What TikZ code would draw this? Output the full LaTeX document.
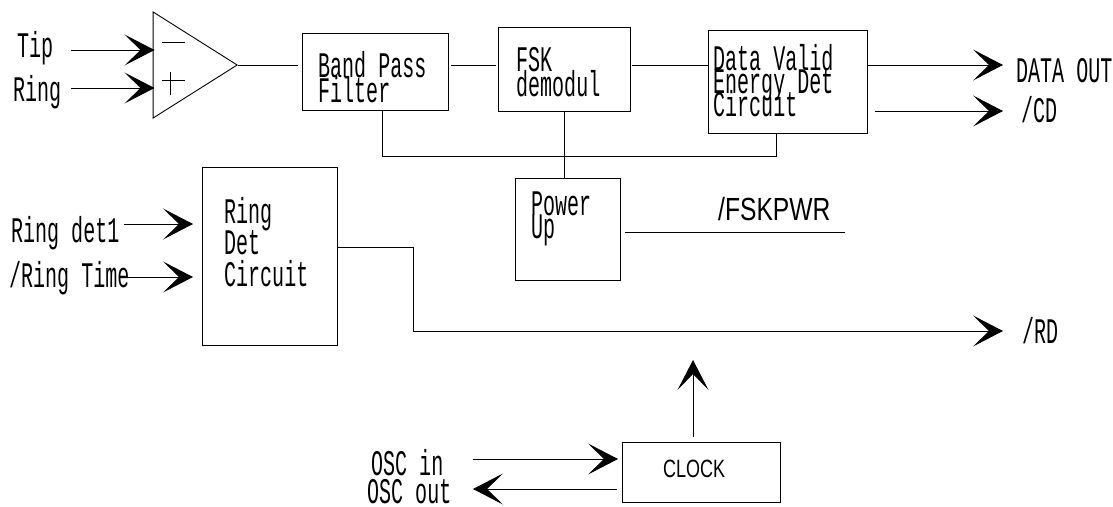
\documentclass[tikz,border=0pt]{standalone}
\usepackage{fontspec}
\setmainfont[FakeStretch=0.556]{Liberation Mono}
\newfontfamily\tightfont[FakeStretch=0.72]{Liberation Sans}
\newfontfamily\widefont[FakeStretch=0.77]{Liberation Sans}
\usetikzlibrary{arrows.meta, shapes.geometric, positioning}

\begin{document}
\begin{tikzpicture}[x=1pt, y=-1pt,
    block/.style={draw=black, rectangle, line width=.9pt, inner sep=0pt},
    tag/.style={inner sep=0pt, anchor=base west, font=\fontsize{36}{25}\selectfont, align=left, execute at begin node={\lineskiplimit=-50pt}},
    sig/.style={line width=.9pt, -{Stealth[length=30pt, width=31pt, inset=16pt]}},
    wire/.style={line width=.9pt}]
    \useasboundingbox (0,0) rectangle (1113,506);
    % amplifier
    \node (amp) [isosceles triangle, isosceles triangle apex angle=64, isosceles triangle stretches, draw=black, line width=.9pt, inner sep=0pt, minimum width=106pt, minimum height=84pt, anchor=apex, shape border uses incircle=false] at (238,65) {};
    \coordinate (amp in1) at (154.5,50);
    \coordinate (amp in2) at (154.5,88);
    \coordinate (tip end) at (71,50);
    \coordinate (ring end) at (71,88);
    \draw[wire] (162,42) -- (185,42);
    \draw[wire] (162,80) -- (185,80);
    \draw[wire] (170,72) -- (170,95);
    % blocks
    \node (bpf) [block, minimum width=146pt, minimum height=77pt] at (375,71.5) {};
    \node (fsk) [block, minimum width=132pt, minimum height=84pt] at (564,69) {};
    \node (valid) [block, minimum width=159pt, minimum height=103pt] at (787.5,81.5) {};
    \node (power) [block, minimum width=105pt, minimum height=102pt] at (567.5,229) {};
    \node (ringdet) [block, minimum width=135pt, minimum height=178pt] at (269.5,256) {};
    \node (clock) [block, minimum width=158pt, minimum height=60pt] at (701,472) {};
    % texts
    \node (bpf text) [tag] at (318,102) {Band Pass\\Filter};
    \node (fsk text) [tag] at (516,96) {FSK\\demodul};
    \node (valid text) [tag, font=\fontsize{36}{23}\selectfont] at (713,116) {Data Valid\\Energy Det\\Circuit};
    \node (power text) [tag, font=\fontsize{36}{23}\selectfont] at (531,238) {Power\\Up};
    \node (ringdet text) [tag, font=\fontsize{36}{31.5}\selectfont] at (224,286) {Ring\\Det\\Circuit};
    \node (clock text) [tag, font=\fontsize{25}{25}\tightfont] at (663,477) {CLOCK};
    \node (tip text) [tag] at (17,57) {Tip};
    \node (ring text) [tag] at (13,101) {Ring};
    \node (ringdet1 text) [tag] at (11,242) {Ring det1};
    \node (ringtime text) [tag] at (9,287) {/Ring Time};
    \node (dataout text) [tag] at (1016,82) {DATA OUT};
    \node (cd text) [tag] at (1021,122) {/CD};
    \node (fskpwr text) [tag, font=\fontsize{32}{32}\widefont] at (718,220) {/FSKPWR};
    \node (rd text) [tag] at (1022,343) {/RD};
    \node (oscin text) [tag] at (371,475) {OSC in};
    \node (oscout text) [tag] at (367,503) {OSC out};
    % free ends
    \coordinate (amp end) at (298,65);
    \coordinate (dataout end) at (1003,65);
    \coordinate (cd start) at (875,111);
    \coordinate (cd end) at (1003,111);
    \coordinate (rd end) at (1003,331);
    \coordinate (pwr start) at (625,232);
    \coordinate (pwr end) at (845,232);
    \coordinate (det1 start) at (124,224);
    \coordinate (det1 end) at (193,224);
    \coordinate (time start) at (124,277);
    \coordinate (time end) at (193,277);
    \coordinate (clk start) at (693,437);
    \coordinate (clk end) at (693,360);
    \coordinate (oscin start) at (473,459);
    \coordinate (oscin end) at (618,459);
    \coordinate (oscout start) at (617,489);
    \coordinate (oscout end) at (473,489);
    \coordinate (bus) at (382,156);
    \draw[sig] (tip end) -- (amp in1);
    \draw[sig] (ring end) -- (amp in2);
    \draw[wire] (amp.apex) -- (amp end);
    \draw[wire] (451,65) -- (496,65);
    \draw[wire] (632,65) -- (valid.west |- 0,65);
    \draw[sig] (valid.east |- dataout end) -- (dataout end);
    \draw[sig] (cd start) -- (cd end);
    \draw[wire] (bpf.south -| bus) -- (bus) -- (776,156) -- (valid.south -| 776,0);
    \draw[wire] (fsk.south) -- (power.north -| fsk.south);
    \draw[wire] (pwr start) -- (pwr end);
    \draw[sig] (det1 start) -- (det1 end);
    \draw[sig] (time start) -- (time end);
    \draw[sig] (ringdet.east |- 0,247) -- (413,247) -- (413,331) -- (rd end);
    \draw[sig] (clk start) -- (clk end);
    \draw[sig] (oscin start) -- (oscin end);
    \draw[sig] (oscout start) -- (oscout end);
\end{tikzpicture}
\end{document}
